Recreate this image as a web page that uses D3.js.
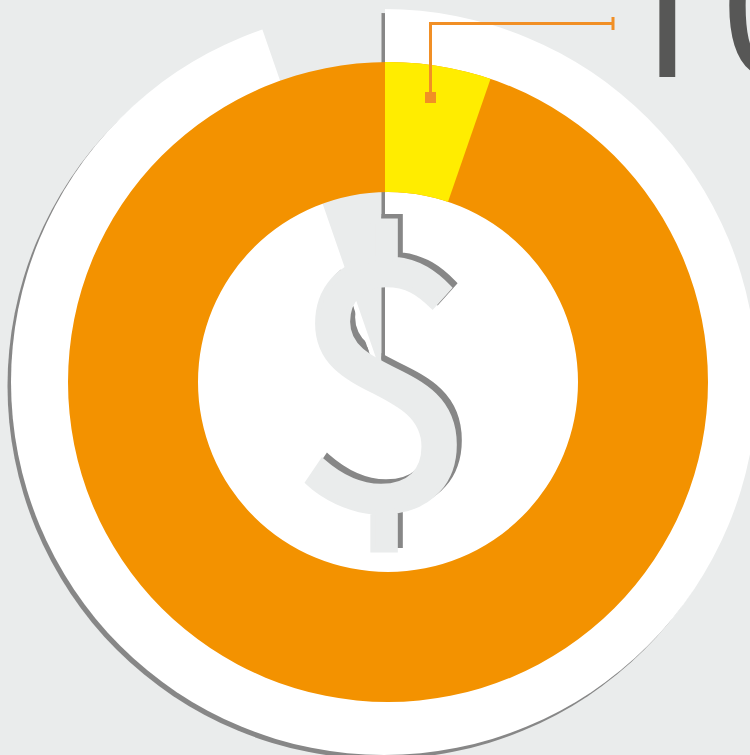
<!DOCTYPE html>
<html><head><meta charset="utf-8">
<script src="https://cdnjs.cloudflare.com/ajax/libs/d3/7.8.5/d3.min.js"></script>
<style>html,body{margin:0;padding:0;background:#eaecec;overflow:hidden}svg{display:block}</style>
</head><body><svg id="c" width="750" height="755"></svg>
<script>
const categories = ["Share", "Rest"];
const shares = [5.3, 94.7];
const bigLabel = "10";
const symbol = "$";
const colors = {bg:"#eaecec", rest:"#f39200", share:"#ffed00", shadow:"#878787", leader:"#f18f25", text:"#575756"};

const svg = d3.select("#c");
const W = 750, H = 755;
svg.append("rect").attr("width",W).attr("height",H).attr("fill",colors.bg);
const defs = svg.append("defs");

const pie = d3.pie().sort(null).value(d=>d);
const slices = pie(shares);
const gapAngle = slices[0].endAngle;
const apex = [385,384], disc = {x:384,y:382,r:373}, ring = {x:388,y:382,r0:190,r1:320};
const shadowOff = [-3.5,4], symbolOff = [5,-4.5];

const sector = d3.arc().innerRadius(0).outerRadius(1500).startAngle(0).endAngle(2*Math.PI-gapAngle)();
defs.append("clipPath").attr("id","plate").append("path").attr("d",sector).attr("transform",`translate(${apex})`);
defs.append("clipPath").attr("id","plateShadow").append("path").attr("d",sector).attr("transform",`translate(${apex[0]+shadowOff[0]},${apex[1]+shadowOff[1]})`);
const ringD = d3.arc().innerRadius(ring.r0).outerRadius(ring.r1).startAngle(0).endAngle(2*Math.PI)();
defs.append("clipPath").attr("id","ring").append("path").attr("d",ringD).attr("transform",`translate(${ring.x},${ring.y})`);

svg.append("g").attr("clip-path","url(#plateShadow)").append("circle")
  .attr("cx",disc.x+shadowOff[0]).attr("cy",disc.y+shadowOff[1]).attr("r",disc.r).attr("fill",colors.shadow);
svg.append("g").attr("clip-path","url(#plate)").append("circle")
  .attr("cx",disc.x).attr("cy",disc.y).attr("r",disc.r).attr("fill","#fff");

const box = {x0:305,x1:455,y0:219.5,y1:549};
const symFont = "Noto Sans CJK SC";
const ctx = document.createElement("canvas").getContext("2d");
ctx.font = `400 100px "${symFont}"`;
const m = ctx.measureText(symbol);
const inkW = m.actualBoundingBoxLeft+m.actualBoundingBoxRight, inkH = m.actualBoundingBoxAscent+m.actualBoundingBoxDescent;
const sx = (box.x1-box.x0)/inkW, sy = (box.y1-box.y0)/inkH;
const tx = box.x0 + m.actualBoundingBoxLeft*sx, ty = box.y0 + m.actualBoundingBoxAscent*sy;
function drawSymbol(parent,dx,dy,fill){
  parent.append("text").text(symbol)
    .attr("transform",`translate(${tx+dx},${ty+dy}) scale(${sx},${sy})`)
    .attr("font-family",`"${symFont}"`).attr("font-size",100).attr("fill",fill)
    .attr("stroke",fill).attr("stroke-width",5/sx).attr("stroke-linejoin","miter");
}
drawSymbol(svg.append("g").attr("clip-path","url(#plateShadow)"),symbolOff[0],symbolOff[1],colors.shadow);
drawSymbol(svg,0,0,colors.bg);

svg.append("path").attr("d",ringD).attr("transform",`translate(${ring.x},${ring.y})`).attr("fill",colors.rest);
const wedge = d3.arc().innerRadius(0).outerRadius(1500);
svg.append("g").attr("clip-path","url(#ring)").append("path")
  .attr("d",wedge(slices[0])).attr("transform",`translate(${apex})`).attr("fill",colors.share);

const leader = d3.path();
leader.moveTo(430.5,97); leader.lineTo(430.5,23.5); leader.lineTo(613,23.5);
svg.append("path").attr("d",leader.toString()).attr("fill","none").attr("stroke",colors.leader).attr("stroke-width",3);
svg.append("line").attr("x1",613).attr("x2",613).attr("y1",17).attr("y2",30).attr("stroke",colors.leader).attr("stroke-width",3);
svg.append("rect").attr("x",425).attr("y",92).attr("width",11).attr("height",11).attr("fill",colors.leader);

svg.append("text").text(bigLabel).attr("x",605).attr("y",77)
  .attr("font-family",'"Open Sans"').attr("font-weight",400).attr("font-size",200).attr("fill",colors.text);
</script></body></html>
